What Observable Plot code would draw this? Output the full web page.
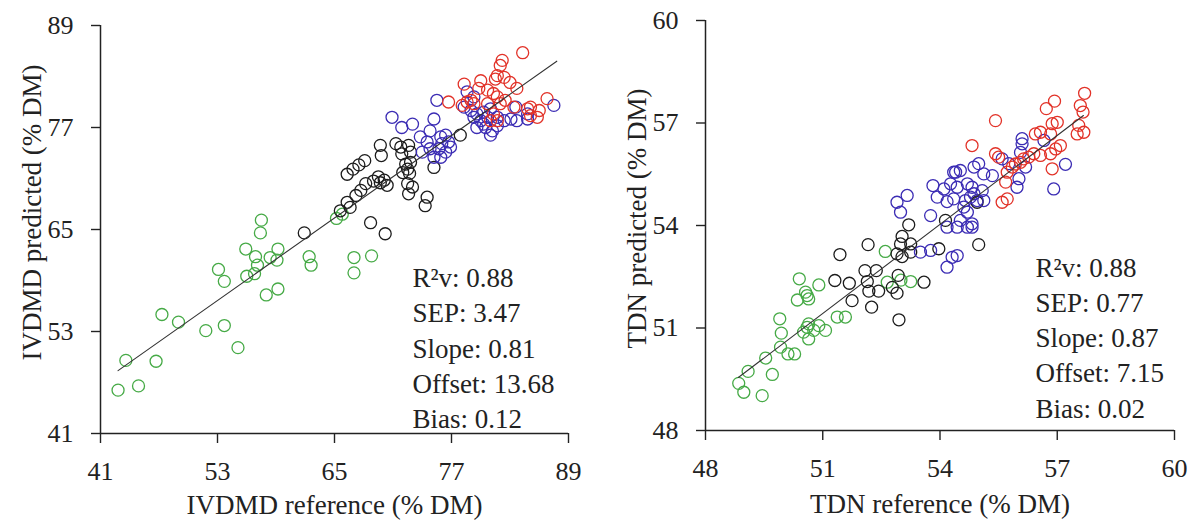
<!DOCTYPE html>
<html>
<head>
<meta charset="utf-8">
<script src="https://cdn.jsdelivr.net/npm/d3@7"></script>
<script src="https://cdn.jsdelivr.net/npm/@observablehq/plot@0.6"></script>
<style>
  html, body { margin: 0; padding: 0; background: #fff; }
  #wrap { position: relative; width: 1199px; height: 521px; overflow: hidden; }
  #left, #right { position: absolute; top: 0; }
  #left { left: 0; }
  #right { left: 600px; }
</style>
</head>
<body>
<div id="wrap"><div id="left"></div><div id="right"></div></div>
<script>
// ---------- IVDMD panel data ----------
const ivdmdTicks = [41, 53, 65, 77, 89];
const ivdmdGreenRef  = [42.8,44.9,43.6,46.7,47.3,49.0,51.8,53.7,55.1,53.1,53.7,55.9,57.4,57.5,56.9,57.1,56.0,56.8,58.4,59.2,59.1,58.0,59.2,62.4,62.6,65.2,65.8,67.0,68.8,67.0];
const ivdmdGreenPred = [46.1,46.6,49.6,49.5,55.0,54.1,53.1,53.7,51.1,60.3,58.9,62.7,64.6,66.1,61.8,60.8,59.5,59.8,61.7,62.7,61.4,57.3,58.0,61.8,60.8,66.3,66.8,61.7,61.9,59.9];
const ivdmdBlackRef  = [61.9,68.7,70.2,66.3,66.9,67.5,68.1,69.7,69.8,71.3,71.8,72.6,72.8,71.9,72.3,72.8,72.5,72.0,68.2,69.0,69.7,70.1,70.4,69.5,67.7,67.2,66.3,66.6,65.6,72.5,73.0,72.6,72.7,74.5,74.3,75.2,77.9];
const ivdmdBlackPred = [64.6,65.8,64.5,71.5,72.1,72.6,73.1,74.9,73.7,75.1,74.7,74.9,74.1,73.9,72.7,72.9,72.1,71.7,70.4,70.7,70.5,70.8,70.2,71.2,69.6,69.0,68.2,67.6,67.2,70.4,70.0,69.2,71.6,68.8,67.8,72.3,76.1];
const ivdmdBlueRef  = [70.9,71.9,73.0,73.8,74.8,75.2,75.5,75.9,76.4,76.0,76.7,75.7,76.4,76.9,74.8,74.5,74.0,75.2,75.9,78.6,79.3,78.3,79.0,79.6,80.3,81.0,79.3,80.0,80.7,81.7,79.6,80.5,81.2,81.0,80.3,81.7,82.4,83.1,83.7,84.8,84.8,83.6,87.5];
const ivdmdBluePred = [78.2,77.0,77.4,75.9,76.6,78.0,80.2,75.9,76.1,75.1,75.3,74.5,74.1,74.7,74.5,75.3,74.1,73.5,73.5,81.2,80.6,79.4,79.0,78.6,78.8,79.2,78.2,77.8,78.2,78.2,77.0,77.0,76.6,76.1,77.4,77.2,77.8,78.0,77.8,78.0,78.6,79.4,79.6];
const ivdmdRedRef  = [84.3,82.2,82.0,81.7,81.5,82.4,83.0,83.7,78.3,80.0,79.8,80.7,81.3,76.7,78.1,78.6,81.7,82.0,82.5,83.4,84.8,85.1,86.0,86.8,80.7,81.3,81.7,81.0,79.3,79.0,85.1,85.8];
const ivdmdRedPred = [85.8,84.9,84.3,83.1,82.7,82.9,82.3,81.6,82.1,82.5,81.6,81.4,81.0,80.0,79.6,80.0,80.6,79.8,80.2,79.4,79.2,79.4,79.0,80.4,79.8,78.6,77.8,77.8,79.8,80.2,78.4,78.2];
const ivdmdFitRef  = [42.8, 87.8];
const ivdmdFitPred = [48.4, 84.8];
const ivdmdStats = ["R\u00b2v: 0.88", "SEP: 3.47", "Slope: 0.81", "Offset: 13.68", "Bias: 0.12"];

// ---------- TDN panel data ----------
const tdnTicks = [48, 51, 54, 57, 60];
const tdnGreenRef  = [48.85,48.98,49.45,49.09,49.71,49.54,49.92,50.11,50.28,49.94,49.90,50.64,50.77,50.90,51.07,50.60,50.64,50.51,51.37,51.58,50.35,50.60,50.64,50.56,50.40,50.90,52.60,52.65,53.25,53.00];
const tdnGreenPred = [49.38,49.12,49.02,49.73,49.64,50.12,50.44,50.24,50.24,50.85,51.27,50.68,50.93,51.07,50.93,51.02,51.12,50.88,51.32,51.32,51.82,51.95,51.85,52.05,52.44,52.26,53.24,52.34,52.36,52.40];
const tdnBlackRef  = [51.44,52.16,51.31,51.68,51.75,52.08,52.37,52.14,52.43,52.18,52.25,52.78,52.90,52.93,52.95,53.59,52.90,53.03,52.99,53.25,53.03,53.20,53.25,53.97,54.99,54.14,54.95];
const tdnBlackPred = [53.15,53.44,52.39,52.31,51.80,52.68,52.68,52.36,52.08,52.08,51.61,52.19,52.02,52.54,51.24,52.34,53.17,53.09,53.46,53.46,53.68,54.02,53.22,53.32,53.44,54.15,54.68];
const tdnBlueRef  = [53.50,53.76,54.18,54.44,54.70,54.82,54.18,54.31,54.44,52.90,52.99,53.16,53.82,53.93,54.10,54.18,54.35,53.76,57.21,56.91,56.66,54.40,54.52,54.99,54.87,55.34,55.12,54.27,54.44,54.70,54.82,54.87,54.35,54.65,54.78,54.95,55.08,55.12,54.61,54.70,54.52,54.82,56.02,55.97,56.19,55.76,55.59,56.10,56.10,56.06];
const tdnBluePred = [53.22,53.27,53.95,53.95,53.95,53.95,52.78,53.07,53.12,54.68,54.39,54.88,55.17,54.83,55.07,54.70,55.56,54.29,55.79,55.07,56.49,55.56,55.61,55.81,55.71,55.46,55.51,55.22,55.12,55.22,55.12,54.93,54.78,54.73,54.83,54.73,55.02,54.73,54.54,54.39,54.15,54.05,55.37,55.12,55.71,55.81,55.95,56.54,56.39,56.14];
const tdnRedRef  = [57.70,57.59,57.66,56.93,56.72,55.42,54.82,56.87,57.00,56.83,56.44,56.57,57.51,57.68,57.55,57.08,56.96,56.83,56.57,56.40,56.27,56.14,56.06,55.93,55.85,55.72,56.87,55.59,55.72,55.68,55.42,55.50];
const tdnRedPred = [57.87,57.51,57.32,57.64,57.42,57.07,56.34,56.98,57.02,56.68,56.68,56.73,56.68,56.73,56.93,56.34,56.24,56.10,56.05,56.10,56.00,55.95,55.85,55.80,55.71,55.56,55.66,54.68,54.78,55.27,56.10,56.00];
const tdnFitRef  = [48.84, 57.67];
const tdnFitPred = [49.55, 57.22];
const tdnStats = ["R\u00b2v: 0.88", "SEP: 0.77", "Slope: 0.87", "Offset: 7.15", "Bias: 0.02"];

const COLORS = {green: "#46aa46", black: "#1c1c1c", blue: "#3b2cb4", red: "#e23228"};
const FONT = "'Liberation Serif', 'Times New Roman', serif";

const pts = (xs, ys) => xs.map((x, i) => ({x, y: ys[i]}));

function panel({width, margins, domain, ticks, groups, fit, stats, statsDx, statsDy, xLabel, yLabel, xLabelDy, yLabelDx, yLabelDy}) {
  const [mt, mr, mb, ml] = margins;
  const dotMarks = groups.map(([xs, ys, c]) =>
    Plot.dot(pts(xs, ys), {x: "x", y: "y", r: 6, stroke: c, strokeWidth: 1.3, fill: "none"}));
  return Plot.plot({
    width, height: 521,
    marginTop: mt, marginRight: mr, marginBottom: mb, marginLeft: ml,
    x: {domain}, y: {domain},
    style: {fontFamily: FONT, fontSize: "26px", color: "#222", background: "transparent", overflow: "visible"},
    marks: [
      Plot.axisX(ticks, {tickSize: 10, tickPadding: 18, fontSize: 26, strokeWidth: 1.4, label: null, tickFormat: d => String(d)}),
      Plot.axisY(ticks, {tickSize: 9, tickPadding: 18, fontSize: 26, strokeWidth: 1.4, label: null, tickFormat: d => String(d)}),
      Plot.ruleY([domain[0]], {stroke: "#222", strokeWidth: 1.5}),
      Plot.ruleX([domain[0]], {stroke: "#222", strokeWidth: 1.5}),
      ...dotMarks,
      Plot.line(pts(fit[0], fit[1]), {x: "x", y: "y", stroke: "#333", strokeWidth: 1.1}),
      Plot.text([stats.join("\n")], {frameAnchor: "top-left", textAnchor: "start", lineAnchor: "top", lineHeight: 1.307, dx: statsDx, dy: statsDy, fontSize: 27, fill: "#222"}),
      Plot.text([xLabel], {frameAnchor: "bottom", textAnchor: "middle", lineAnchor: "bottom", dy: xLabelDy, fontSize: 27, fill: "#222"}),
      Plot.text([yLabel], {frameAnchor: "left", textAnchor: "middle", lineAnchor: "bottom", rotate: -90, dx: yLabelDx, dy: yLabelDy, fontSize: 27, fill: "#222"})
    ]
  });
}

document.getElementById("left").append(panel({
  width: 600, margins: [25, 32, 88, 100], domain: [41, 89], ticks: ivdmdTicks,
  groups: [[ivdmdGreenRef, ivdmdGreenPred, COLORS.green], [ivdmdBlackRef, ivdmdBlackPred, COLORS.black], [ivdmdBlueRef, ivdmdBluePred, COLORS.blue], [ivdmdRedRef, ivdmdRedPred, COLORS.red]],
  fit: [ivdmdFitRef, ivdmdFitPred], stats: ivdmdStats, statsDx: 312, statsDy: 236.5,
  xLabel: "IVDMD reference (% DM)", yLabel: "IVDMD predicted (% DM)",
  xLabelDy: 80, yLabelDx: -60, yLabelDy: -17
}));

document.getElementById("right").append(panel({
  width: 599, margins: [20, 25, 91, 105], domain: [48, 60], ticks: tdnTicks,
  groups: [[tdnGreenRef, tdnGreenPred, COLORS.green], [tdnBlackRef, tdnBlackPred, COLORS.black], [tdnBlueRef, tdnBluePred, COLORS.blue], [tdnRedRef, tdnRedPred, COLORS.red]],
  fit: [tdnFitRef, tdnFitPred], stats: tdnStats, statsDx: 330, statsDy: 231,
  xLabel: "TDN reference (% DM)", yLabel: "TDN predicted (% DM)",
  xLabelDy: 82, yLabelDx: -60, yLabelDy: -7
}));
</script>
</body>
</html>
